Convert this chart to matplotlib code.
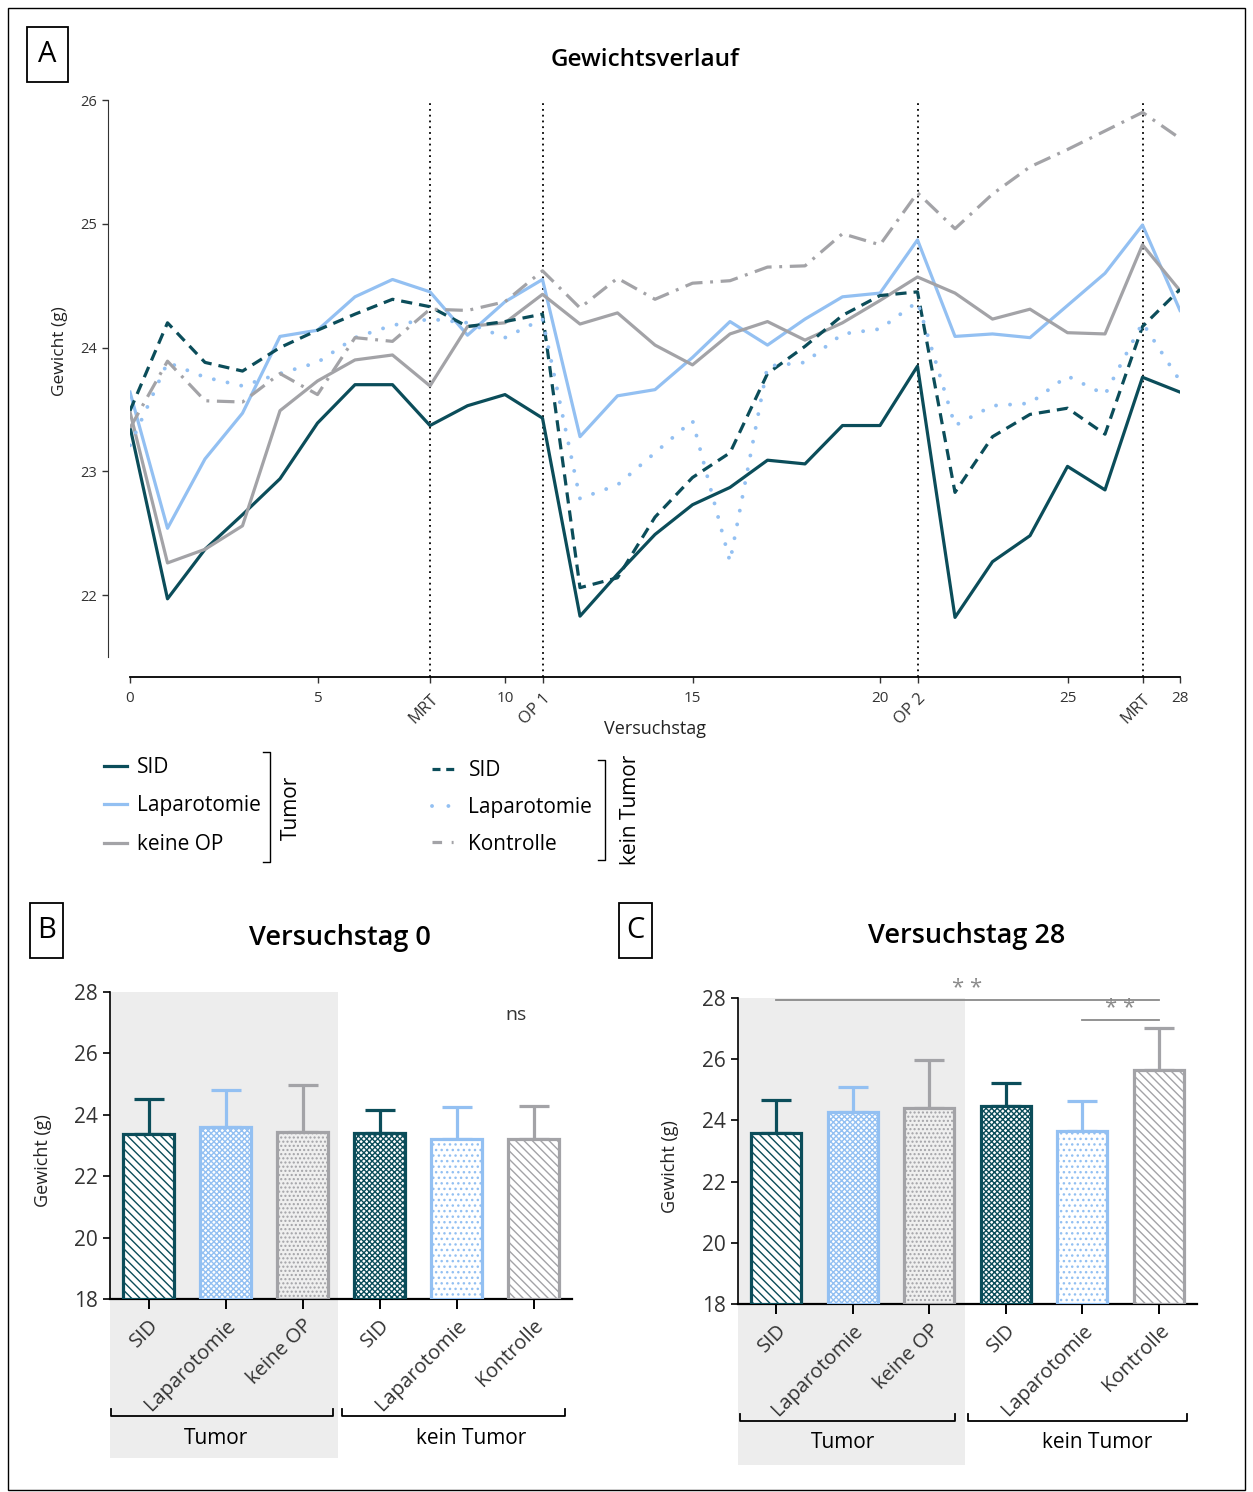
import matplotlib
matplotlib.use('Agg')
import matplotlib.pyplot as plt
from matplotlib.lines import Line2D
from matplotlib.patches import Rectangle
from matplotlib.transforms import blended_transform_factory

plt.rcParams['font.family'] = ['Open Sans', 'DejaVu Sans']
plt.rcParams['hatch.linewidth'] = 1.0

# ---------------- data ----------------
days = list(range(29))
tumor_sid = [23.36, 21.97, 22.37, 22.65, 22.94, 23.39, 23.70, 23.70, 23.37, 23.53, 23.62, 23.43,
             21.83, 22.17, 22.49, 22.73, 22.87, 23.09, 23.06, 23.37, 23.37, 23.85,
             21.82, 22.27, 22.48, 23.04, 22.85, 23.76, 23.64]
tumor_lap = [23.64, 22.54, 23.10, 23.47, 24.09, 24.14, 24.41, 24.55, 24.45, 24.10, 24.37, 24.55,
             23.28, 23.61, 23.66, 23.92, 24.21, 24.02, 24.23, 24.41, 24.44, 24.87,
             24.09, 24.11, 24.08, 24.34, 24.60, 24.99, 24.30]
tumor_keine = [23.48, 22.26, 22.37, 22.56, 23.49, 23.73, 23.90, 23.94, 23.69, 24.17, 24.20, 24.43,
               24.19, 24.28, 24.02, 23.86, 24.11, 24.21, 24.06, 24.20, 24.38, 24.57,
               24.44, 24.23, 24.31, 24.12, 24.11, 24.83, 24.46]
kt_sid = [23.49, 24.20, 23.88, 23.81, 24.00, 24.14, 24.27, 24.39, 24.33, 24.17, 24.21, 24.27,
          22.06, 22.14, 22.63, 22.95, 23.15, 23.79, 24.01, 24.26, 24.42, 24.45,
          22.83, 23.28, 23.46, 23.51, 23.30, 24.17, 24.47]
kt_lap = [23.21, 23.88, 23.76, 23.69, 23.79, 23.88, 24.08, 24.18, 24.23, 24.20, 24.08, 24.23,
          22.78, 22.89, 23.15, 23.41, 22.27, 23.85, 23.88, 24.11, 24.15, 24.37,
          23.37, 23.53, 23.55, 23.77, 23.62, 24.20, 23.73]
kontrolle = [23.35, 23.89, 23.57, 23.56, 23.79, 23.62, 24.08, 24.05, 24.31, 24.30, 24.37, 24.62,
             24.32, 24.56, 24.39, 24.52, 24.54, 24.65, 24.66, 24.92, 24.83, 25.25,
             24.96, 25.24, 25.46, 25.60, 25.75, 25.90, 25.69]

event_days = [8, 11, 21, 27]
xtick_pos = [0, 5, 8, 10, 11, 15, 20, 21, 25, 27, 28]
xtick_lab = ['0', '5', 'MRT', '10', 'OP 1', '15', '20', 'OP 2', '25', 'MRT', '28']
ytick_a = [22, 23, 24, 25, 26]

bar_labels = ['SID', 'Laparotomie', 'keine OP', 'SID', 'Laparotomie', 'Kontrolle']
d0_mean = [23.36, 23.61, 23.44, 23.40, 23.22, 23.22]
d0_sd = [1.16, 1.20, 1.53, 0.77, 1.04, 1.08]
d28_mean = [23.59, 24.26, 24.41, 24.47, 23.66, 25.65]
d28_sd = [1.08, 0.84, 1.55, 0.75, 0.97, 1.38]
ytick_bar = [18, 20, 22, 24, 26, 28]

# ---------------- styles ----------------
TEAL = '#0b4d5a'
LBLUE = '#93c0f2'
GREY = '#a3a3a7'

W, H = 1253, 1492
def fx(p): return p / W
def fy(p): return 1 - p / H

fig = plt.figure(figsize=(W / 100, H / 100), dpi=100)
fig.add_artist(Rectangle((fx(8), fy(1490)), fx(1245) - fx(8), fy(8) - fy(1490),
                         transform=fig.transFigure, fill=False, lw=1.0, ec='black'))

def panel_label(letter, x0, y0, x1, y1):
    fig.add_artist(Rectangle((fx(x0), fy(y1)), fx(x1) - fx(x0), fy(y0) - fy(y1),
                             transform=fig.transFigure, fill=False, lw=1.3, ec='black'))
    fig.text(fx((x0 + x1) / 2), fy((y0 + y1) / 2), letter, ha='center', va='center',
             fontsize=21)

panel_label('A', 27, 27, 68, 82)
panel_label('B', 30, 903, 63, 958)
panel_label('C', 619, 903, 652, 958)

# ---------------- Panel A ----------------
axA = fig.add_axes([fx(130), fy(657), fx(1180) - fx(130), fy(100) - fy(657)])
lw = 2.3
ls_dash = (0, (3.5, 2.2))
ls_dot = (0, (0.01, 3.6))
ls_dashdot = (0, (5.5, 2.4, 0.9, 2.4))
axA.plot(days, tumor_sid, color=TEAL, lw=lw)
axA.plot(days, tumor_lap, color=LBLUE, lw=lw)
axA.plot(days, tumor_keine, color=GREY, lw=lw)
axA.plot(days, kt_sid, color=TEAL, lw=lw, ls=ls_dash)
axA.plot(days, kt_lap, color=LBLUE, lw=2.8, ls=ls_dot, dash_capstyle='round')
axA.plot(days, kontrolle, color=GREY, lw=lw, ls=ls_dashdot)

for d in event_days:
    axA.axvline(d, ymin=-20 / 557, ymax=1, color='black', ls=(0, (1, 2.2)), lw=1.3,
                clip_on=False, zorder=0)

axA.set_xlim(0, 28)
axA.set_ylim(21.5, 26)
axA.spines['top'].set_visible(False)
axA.spines['right'].set_visible(False)
axA.spines['left'].set_position(('outward', 16))
axA.spines['bottom'].set_position(('outward', 14.4))
axA.spines['left'].set_color('#333333')
axA.spines['bottom'].set_linewidth(1.3)
axA.set_yticks(ytick_a)
axA.set_yticklabels([str(v) for v in ytick_a], fontsize=10.5, color='#333333')
axA.set_xticks(xtick_pos)
axA.set_xticklabels(xtick_lab, fontsize=11, color='#333333')
for lab in axA.get_xticklabels():
    if not lab.get_text().isdigit():
        lab.set_rotation(45)
        lab.set_ha('right')
        lab.set_rotation_mode('anchor')
        lab.set_va('top')
        lab.set_fontsize(12)
axA.tick_params(axis='both', length=4, width=1.0, colors='#333333')
axA.tick_params(axis='x', pad=6)
axA.set_xlabel('Versuchstag', fontsize=13, color='#222222')
axA.xaxis.set_label_coords(0.5, -0.113)
axA.set_ylabel('Gewicht (g)', fontsize=12.5, color='#222222')
axA.yaxis.set_label_coords((68 - 130) / 1050, 0.55)
fig.text(fx(645), fy(60), 'Gewichtsverlauf', ha='center', va='center', fontsize=17.5,
         fontweight='semibold')

# legend proxies (styles only)
h_tumor = [Line2D([], [], color=TEAL, lw=lw),
           Line2D([], [], color=LBLUE, lw=lw),
           Line2D([], [], color=GREY, lw=lw)]
h_kt = [Line2D([], [], color=TEAL, lw=lw, ls=(0, (2.5, 1.8))),
        Line2D([], [], color=LBLUE, lw=2.8, ls=(0, (0.01, 4.2)), dash_capstyle='round'),
        Line2D([], [], color=GREY, lw=lw, ls=(0, (3.0, 3.0, 0.6, 3.0)))]
fig.legend(h_tumor, ['SID', 'Laparotomie', 'keine OP'], loc='upper left',
           bbox_to_anchor=(fx(104), fy(757)), frameon=False, fontsize=15,
           handlelength=1.1, handletextpad=0.5, labelspacing=0.84,
           borderpad=0, borderaxespad=0)
fig.legend(h_kt, ['SID', 'Laparotomie', 'Kontrolle'], loc='upper left',
           bbox_to_anchor=(fx(432), fy(760)), frameon=False, fontsize=15,
           handlelength=1.1, handletextpad=0.65, labelspacing=0.76,
           borderpad=0, borderaxespad=0)

def fig_bracket(x, y0, y1, tick=7):
    fig.add_artist(Line2D([fx(x - tick), fx(x), fx(x), fx(x - tick)],
                          [fy(y0), fy(y0), fy(y1), fy(y1)], transform=fig.transFigure,
                          color='black', lw=1.0))

fig_bracket(270, 752, 862)
fig.text(fx(291), fy(808), 'Tumor', rotation=90, ha='center', va='center', fontsize=15)
fig_bracket(605, 760, 860)
fig.text(fx(630), fy(810), 'kein Tumor', rotation=90, ha='center', va='center', fontsize=15)

# ---------------- Panels B, C ----------------
bar_colors = [TEAL, LBLUE, GREY, TEAL, LBLUE, GREY]
bar_faces = ['white', 'white', '#efefef', 'white', 'white', 'white']
bar_hatches = ['\\\\\\\\', 'xxxxxx', '....', 'xxxxxx', '...', '\\\\\\\\']

def bar_panel(rect_px, means, sds, title, title_xy, ylab_x, shade_right_px, shade_bottom_px,
              brk_y, tumor_x, ktumor_x, brk1, brk2):
    x0, y0, x1, y1 = rect_px
    ax = fig.add_axes([fx(x0), fy(y1), fx(x1) - fx(x0), fy(y0) - fy(y1)])
    pos = list(range(len(means)))
    for i in pos:
        ax.bar(i, means[i] - 18, bottom=18, width=0.65, facecolor=bar_faces[i],
               edgecolor=bar_colors[i], hatch=bar_hatches[i], lw=2.3, zorder=3)
        ax.errorbar(i, means[i], yerr=[[0], [sds[i]]], fmt='none', ecolor=bar_colors[i],
                    elinewidth=2.3, capsize=11, capthick=2.3, zorder=2)
    ax.set_xlim(-0.5, 5.5)
    ax.set_ylim(18, 28)
    ax.spines['top'].set_visible(False)
    ax.spines['right'].set_visible(False)
    ax.spines['left'].set_linewidth(1.2)
    ax.spines['bottom'].set_linewidth(1.6)
    ax.set_yticks(ytick_bar)
    ax.set_yticklabels([str(v) for v in ytick_bar], fontsize=15, color='#333333')
    ax.set_xticks(pos)
    ax.set_xticklabels(bar_labels, rotation=45, ha='right', rotation_mode='anchor',
                       fontsize=14.5, color='#333333')
    ax.tick_params(axis='x', length=7, width=1.4, pad=5)
    ax.tick_params(axis='y', length=5, width=1.2)
    ax.set_ylabel('Gewicht (g)', fontsize=13, color='#222222')
    ax.yaxis.set_label_coords((ylab_x - x0) / (x1 - x0), 0.45)
    ax.patch.set_alpha(0)
    # shaded Tumor region (x in data, y in figure)
    tr = blended_transform_factory(ax.transData, fig.transFigure)
    shade_right = (shade_right_px - x0) / (x1 - x0) * 6 - 0.5
    fig.add_artist(Rectangle((-0.5, fy(shade_bottom_px)), shade_right + 0.5,
                             fy(y0) - fy(shade_bottom_px), transform=tr,
                             facecolor='#ededed', edgecolor='none', zorder=-5))
    # group brackets
    for (a, b) in (brk1, brk2):
        xa = (a - x0) / (x1 - x0) * 6 - 0.5
        xb = (b - x0) / (x1 - x0) * 6 - 0.5
        fig.add_artist(Line2D([xa, xa, xb, xb], [fy(brk_y - 7), fy(brk_y), fy(brk_y), fy(brk_y - 7)],
                              transform=tr, color='black', lw=1.3))
    fig.text(fx(tumor_x), fy(brk_y + 22), 'Tumor', ha='center', va='center', fontsize=15)
    fig.text(fx(ktumor_x), fy(brk_y + 22), 'kein Tumor', ha='center', va='center', fontsize=15)
    fig.text(fx(title_xy[0]), fy(title_xy[1]), title, ha='center', va='center', fontsize=19.5,
             fontweight='semibold')
    return ax

axB = bar_panel((110, 992, 572, 1299), d0_mean, d0_sd, 'Versuchstag 0', (340, 938), 52,
                338, 1458, 1416, 216, 471, (111, 333), (342, 565))
axB.text(4.77, 27.25, 'ns', ha='center', va='center', fontsize=14, color='#333333')

axC = bar_panel((738, 998, 1197, 1304), d28_mean, d28_sd, 'Versuchstag 28', (967, 936), 679,
                965, 1465, 1421, 843, 1097, (740, 955), (968, 1187))
sig_col = '#8a8a8a'
axC.plot([0, 5], [27.92, 27.92], color=sig_col, lw=1.3, clip_on=False)
axC.text(2.5, 27.97, '* *', ha='center', va='bottom', fontsize=16, color=sig_col)
axC.plot([4, 5], [27.28, 27.28], color=sig_col, lw=1.3, clip_on=False)
axC.text(4.5, 27.3, '* *', ha='center', va='bottom', fontsize=16, color=sig_col)

fig.savefig('out.png', dpi=100)
